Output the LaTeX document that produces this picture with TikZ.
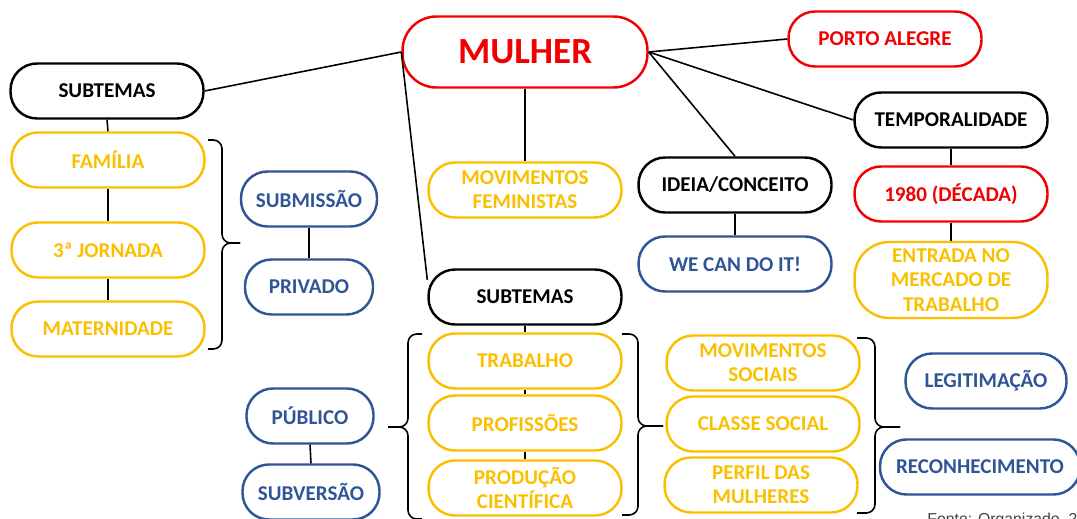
\documentclass[tikz,border=0pt]{standalone}
\usepackage{fontspec}
\setmainfont{Carlito}
\newfontfamily\fontefam{Liberation Sans}
\usetikzlibrary{positioning, calc}
\definecolor{ouro}{RGB}{250,192,0}
\definecolor{azul}{RGB}{47,85,151}
\definecolor{verm}{RGB}{240,0,0}
\tikzset{
  pill/.style={rectangle, rounded corners=0.53cm, line width=1.4pt, minimum width=3.86cm,
    minimum height=1.1cm, align=center, inner sep=1pt, font=\fontsize{12}{13.8}\selectfont\bfseries},
  preto/.style={pill, draw=black, text=black},
  vermelho/.style={pill, draw=verm, text=verm},
  amarelo/.style={pill, draw=ouro, text=ouro},
  azulado/.style={pill, draw=azul, text=azul},
  liga/.style={line width=0.9pt},
  chave/.style={line width=0.9pt, rounded corners=5pt}
}
\begin{document}
\begin{tikzpicture}[x=0.02cm, y=-0.02cm]
\useasboundingbox (0,0) rectangle (1077,519);
\clip (0,0) rectangle (1077,519);

% centre and first level
\node[vermelho, minimum width=4.9cm, minimum height=1.42cm, rounded corners=0.68cm,
  font=\fontsize{21}{24}\selectfont\bfseries] (mulher) at (525,52) {MULHER};
\node[vermelho] (porto) at (885,39) {PORTO ALEGRE};
\node[preto] (subA) at (107,91) {SUBTEMAS};
\node[preto] (temporal) at (951,120) {TEMPORALIDADE};
\node[amarelo] (movfem) at (525,190) {MOVIMENTOS\\FEMINISTAS};
\node[preto] (ideia) at (735,185) {IDEIA/CONCEITO};
\node[preto] (subB) at (525,297) {SUBTEMAS};

% left column
\node[amarelo] (familia) at (108,160) {FAMÍLIA};
\node[amarelo] (jornada) at (108,250) {3ª JORNADA};
\node[amarelo] (matern) at (108,329) {MATERNIDADE};
\node[azulado, minimum width=2.72cm] (submis) at (309,199) {SUBMISSÃO};
\node[azulado, minimum width=2.56cm] (privado) at (309,287) {PRIVADO};

% right side
\node[azulado] (wecan) at (735,264) {WE CAN DO IT!};
\node[vermelho] (decada) at (951,194) {1980 (DÉCADA)};
\node[amarelo, minimum height=1.52cm, rounded corners=0.7cm] (entrada) at (951,280) {ENTRADA NO\\MERCADO DE\\TRABALHO};

% bottom block
\node[amarelo] (trabalho) at (525,361) {TRABALHO};
\node[amarelo] (profis) at (525,423) {PROFISSÕES};
\node[amarelo] (producao) at (525,488) {PRODUÇÃO\\CIENTÍFICA};
\node[amarelo] (movsoc) at (763,363) {MOVIMENTOS\\SOCIAIS};
\node[amarelo] (classe) at (763,424) {CLASSE SOCIAL};
\node[amarelo] (perfil) at (761,485) {PERFIL DAS\\MULHERES};
\node[azulado, minimum width=3.22cm] (legit) at (986,381) {LEGITIMAÇÃO};
\node[azulado, minimum width=4.0cm] (reconh) at (980,467) {RECONHECIMENTO};
\node[azulado, minimum width=2.54cm] (publico) at (310,416) {PÚBLICO};
\node[azulado, minimum width=2.74cm] (subvers) at (311,492) {SUBVERSÃO};

% links
\draw[liga] (mulher.west) -- (subA.east);
\draw[liga] (mulher.west) -- (subB.170);
\draw[liga] (mulher.east) -- (porto.west);
\draw[liga] (mulher.east) -- (temporal.west);
\draw[liga] (mulher.east) -- (ideia.north);
\draw[liga] (mulher.south) -- (movfem.north);
\draw[liga] (subA.south) -- (familia.north);
\draw[liga] (familia.south) -- (jornada.north);
\draw[liga] (jornada.south) -- (matern.north);
\draw[liga] (submis.south) -- (privado.north);
\draw[liga] (ideia.south) -- (wecan.north);
\draw[liga] (temporal.south) -- (decada.north);
\draw[liga] (decada.south) -- (entrada.north);
\draw[liga] (subB.south) -- (trabalho.north);
\draw[liga] (trabalho.south) -- (profis.north);
\draw[liga] (profis.south) -- (producao.north);
\draw[liga] (publico.south) -- (subvers.north);

% braces
\draw[chave] (208,140) -- (222,140) -- (222,243) -- (240,243);
\draw[chave] (208,349) -- (222,349) -- (222,243) -- (240,243);
\draw[chave] (422,334) -- (408,334) -- (408,427) -- (388,427);
\draw[chave] (422,519) -- (408,519) -- (408,427) -- (388,427);
\draw[chave] (622,334) -- (638,334) -- (638,426) -- (663,426);
\draw[chave] (622,515) -- (638,515) -- (638,426) -- (663,426);
\draw[chave] (857,338) -- (875,338) -- (875,427) -- (900,427);
\draw[chave] (857,513) -- (875,513) -- (875,427) -- (900,427);

\node[anchor=north west, inner sep=0pt, text=black!75, font=\fontefam\fontsize{9}{10}\selectfont]
  (fonte) at (927,513) {Fonte: Organizado, 2018};
\end{tikzpicture}
\end{document}
